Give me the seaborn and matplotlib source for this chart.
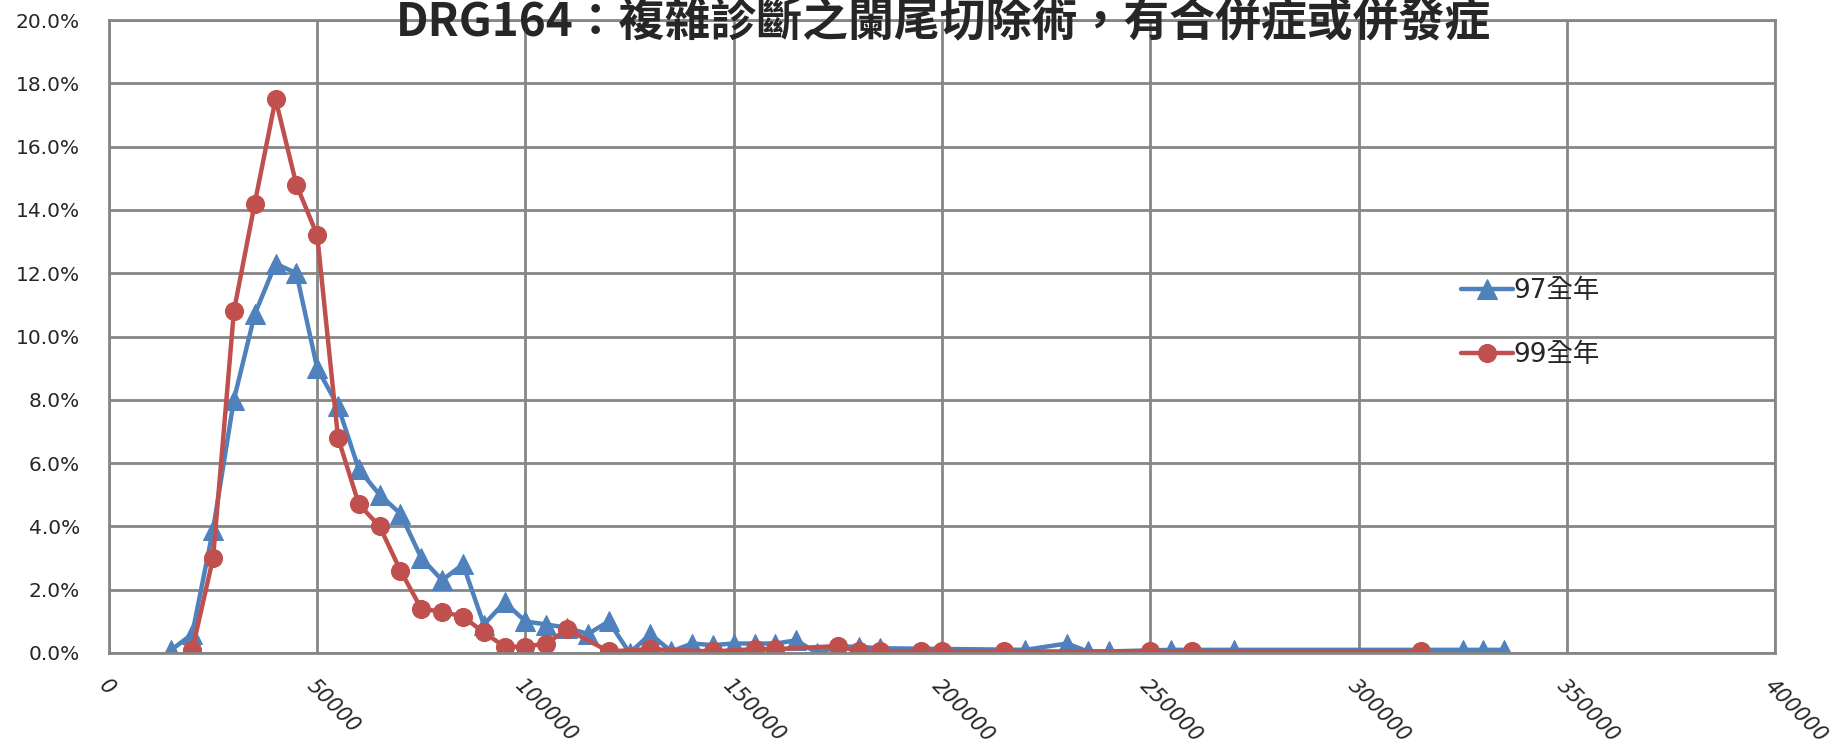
import numpy as np
import pandas as pd
import matplotlib
matplotlib.use("Agg")
import matplotlib.pyplot as plt
from matplotlib.ticker import PercentFormatter
import seaborn as sns

# 97全年: cost (x) vs share of cases (y)
x97 = [15000, 20000, 25000, 30000, 35000, 40000, 45000, 50000, 55000, 60000,
       65000, 70000, 75000, 80000, 85000, 90000, 95000, 100000, 105000, 110000,
       115000, 120000, 125000, 130000, 135000, 140000, 145000, 150000, 155000, 160000,
       165000, 170000, 175000, 180000, 185000, 220000, 230000, 235000, 240000, 255000,
       270000, 325000, 330000, 335000]
y97 = [0.001, 0.006, 0.039, 0.080, 0.107, 0.123, 0.120, 0.090, 0.078, 0.058,
       0.050, 0.044, 0.030, 0.023, 0.028, 0.009, 0.016, 0.010, 0.009, 0.008,
       0.006, 0.010, 0.000, 0.006, 0.0005, 0.003, 0.0025, 0.003, 0.003, 0.003,
       0.004, 0.000, 0.002, 0.002, 0.0015, 0.001, 0.003, 0.0005, 0.0005, 0.001,
       0.001, 0.001, 0.001, 0.001]

# 99全年
x99 = [20000, 25000, 30000, 35000, 40000, 45000, 50000, 55000, 60000, 65000,
       70000, 75000, 80000, 85000, 90000, 95000, 100000, 105000, 110000, 120000,
       130000, 145000, 155000, 160000, 175000, 180000, 185000, 195000, 200000, 215000,
       250000, 260000, 315000]
y99 = [0.001, 0.030, 0.108, 0.142, 0.175, 0.148, 0.132, 0.068, 0.047, 0.040,
       0.026, 0.014, 0.013, 0.0115, 0.0065, 0.002, 0.002, 0.003, 0.0075, 0.0005,
       0.0012, 0.0005, 0.0012, 0.0012, 0.0022, 0.0005, 0.0005, 0.0005, 0.0005, 0.0005,
       0.0005, 0.0005, 0.0005]

xticks = list(range(0, 400001, 50000))
title = "DRG164：複雜診斷之闌尾切除術，有合併症或併發症"

sns.set_style("white")
plt.rcParams['font.family'] = ['DejaVu Sans', 'Noto Sans CJK TC']

fig = plt.figure(figsize=(18.4, 7.55), dpi=100)
ax = fig.add_axes([0.0592, 0.1351, 0.9055, 0.8384])

grid_col = '#868686'
ax.set_xticks(xticks)
ax.set_yticks(np.arange(0, 0.2001, 0.02))
ax.grid(True, color=grid_col, linewidth=2)
ax.set_axisbelow(True)
for s in ax.spines.values():
    s.set_color(grid_col)
    s.set_linewidth(2)

blue = '#4F81BD'
red = '#C0504D'
sns.lineplot(x=x97, y=y97, ax=ax, color=blue, marker='^', markersize=15,
             markeredgecolor=blue, linewidth=3.2, label='97全年', sort=False)
sns.lineplot(x=x99, y=y99, ax=ax, color=red, marker='o', markersize=13,
             markeredgecolor=red, linewidth=3.2, label='99全年', sort=False)

ax.set_xlim(0, 400000)
ax.set_ylim(0, 0.2)
ax.yaxis.set_major_formatter(PercentFormatter(1, decimals=1))
ax.set_xticklabels([str(v) for v in xticks], rotation=-45, ha='left', va='top',
                   rotation_mode='anchor', fontsize=15, style='italic')
ax.tick_params(axis='y', labelsize=14.5, length=0, pad=21)
ax.tick_params(axis='x', length=0, pad=16)
for lab in ax.get_yticklabels():
    lab.set_horizontalalignment('right')
ax.set_xlabel('')
ax.set_ylabel('')

leg = ax.legend(loc='upper left', bbox_to_anchor=(0.797, 0.63), frameon=False,
                handlelength=2.0, handletextpad=0.0, labelspacing=1.45,
                prop={'family': ['DejaVu Sans', 'Noto Sans CJK TC'], 'size': 19})

fig.text(0.513, 0.999, title, ha='center', va='top', fontsize=33,
         fontweight='bold', family=['Noto Sans CJK TC', 'DejaVu Sans'])

fig.savefig('out.png', dpi=100)
